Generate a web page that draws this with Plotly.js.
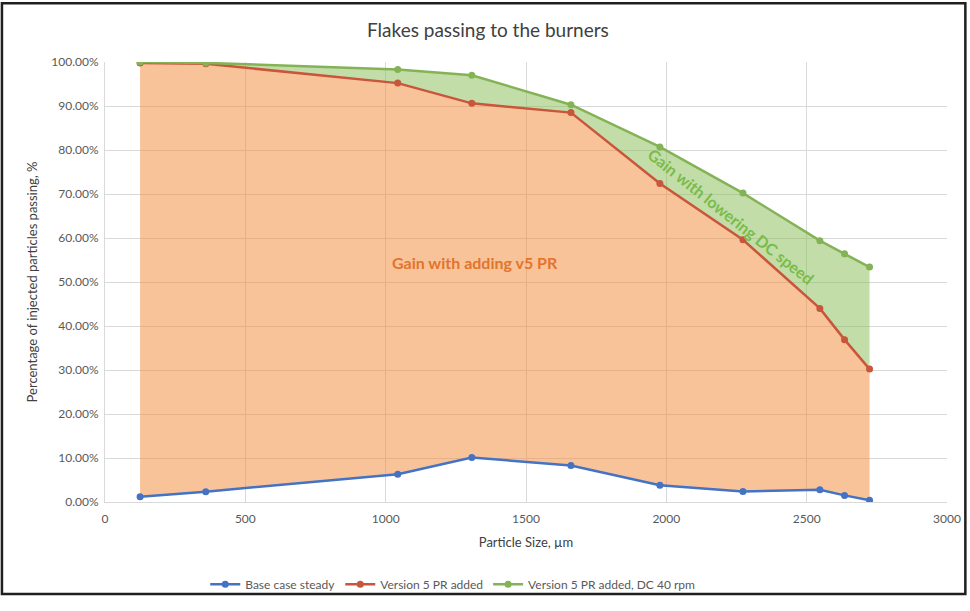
<!DOCTYPE html>
<html>
<head>
<meta charset="utf-8">
<script src="https://cdn.plot.ly/plotly-3.0.1.min.js"></script>
<style>
  html, body { margin: 0; padding: 0; background: #fff; overflow: hidden; }
  #chart { width: 970px; height: 611px; }
</style>
</head>
<body>
<div id="chart"></div>
<script>
// particle size, µm
const particleSize = [125, 359, 1043, 1307, 1660, 1977, 2273, 2547, 2635, 2724];

// fraction of injected particles passing
const baseCase = [0.012, 0.0235, 0.063, 0.101, 0.083, 0.038, 0.024, 0.028, 0.015, 0.004];
const v5Added = [0.998, 0.996, 0.952, 0.906, 0.885, 0.724, 0.596, 0.440, 0.369, 0.302];
const v5AddedDC40 = [1.000, 0.998, 0.983, 0.970, 0.903, 0.807, 0.702, 0.594, 0.564, 0.534];

const seriesNames = ["Base case steady", "Version 5 PR added", "Version 5 PR added, DC 40 rpm"];
const lineColors = ["#4472C4", "#C9553A", "#84B356"];

const FONT = "Lato, 'Liberation Sans', sans-serif";
const grey = "#595959";

const traces = [];

// shaded gain areas (drawn under the lines, kept out of the legend)
traces.push({
    x: particleSize, y: baseCase,
    mode: "lines", line: {width: 0},
    hoverinfo: "skip", showlegend: false
});
traces.push({
    x: particleSize, y: v5Added,
    mode: "lines", line: {width: 0},
    fill: "tonexty", fillcolor: "rgba(244,140,62,0.52)",
    hoverinfo: "skip", showlegend: false
});
traces.push({
    x: particleSize, y: v5AddedDC40,
    mode: "lines", line: {width: 0},
    fill: "tonexty", fillcolor: "rgba(140,190,90,0.52)",
    hoverinfo: "skip", showlegend: false
});

const series = [baseCase, v5Added, v5AddedDC40];
for (let i = 0; i < series.length; i++) {
    traces.push({
        name: seriesNames[i],
        x: particleSize,
        y: series[i],
        mode: "lines+markers",
        type: "scatter",
        line: {color: lineColors[i], width: 2.5},
        marker: {color: lineColors[i], size: 7}
    });
}

const layout = {
    width: 970,
    height: 611,
    margin: {l: 105, r: 23, t: 62, b: 99},
    paper_bgcolor: "#ffffff",
    plot_bgcolor: "#ffffff",
    font: {family: FONT, color: grey, size: 12},
    title: {
        text: "Flakes passing to the burners",
        font: {family: FONT, size: 19, color: "#404040"},
        x: 0.503, xanchor: "center",
        y: 0.951, yanchor: "middle"
    },
    xaxis: {
        range: [0, 3000],
        dtick: 500,
        showgrid: true,
        gridcolor: "#D9D9D9",
        zeroline: false,
        showline: true,
        linecolor: "#D9D9D9",
        ticks: "",
        ticklabelstandoff: 6,
        tickfont: {size: 12, color: grey},
        title: {text: "Particle Size, µm", font: {size: 13, color: "#404040"}, standoff: 12}
    },
    yaxis: {
        range: [0, 1],
        dtick: 0.1,
        tickformat: ".2%",
        showgrid: true,
        gridcolor: "#D9D9D9",
        zeroline: false,
        showline: true,
        linecolor: "#D9D9D9",
        ticks: "",
        ticksuffix: " ",
        tickfont: {size: 12, color: grey},
        title: {text: "Percentage of injected particles passing, %", font: {size: 13, color: "#404040"}, standoff: 10}
    },
    legend: {
        orientation: "h",
        traceorder: "normal",
        x: 0.413, xanchor: "center",
        y: -0.187, yanchor: "middle",
        font: {size: 12, color: grey},
        itemwidth: 30,
        bgcolor: "rgba(0,0,0,0)"
    },
    annotations: [
        {
            text: "<b>Gain with adding v5 PR</b>",
            x: 1319, y: 0.544, xref: "x", yref: "y",
            showarrow: false,
            font: {size: 16, color: "#E2742B", family: FONT}
        },
        {
            text: "<b>Gain with lowering DC speed</b>",
            x: 2233, y: 0.650, xref: "x", yref: "y",
            showarrow: false, textangle: 38.5,
            font: {size: 16, color: "#79BC4A", family: FONT}
        }
    ],
    shapes: [
        {
            type: "rect", xref: "paper", yref: "paper",
            x0: -0.1224, x1: 1.0218, y0: -0.2089, y1: 1.1333,
            line: {color: "#1f1f1f", width: 2.5},
            layer: "above"
        }
    ]
};

Plotly.newPlot("chart", traces, layout, {displayModeBar: false, responsive: false});
</script>
</body>
</html>
